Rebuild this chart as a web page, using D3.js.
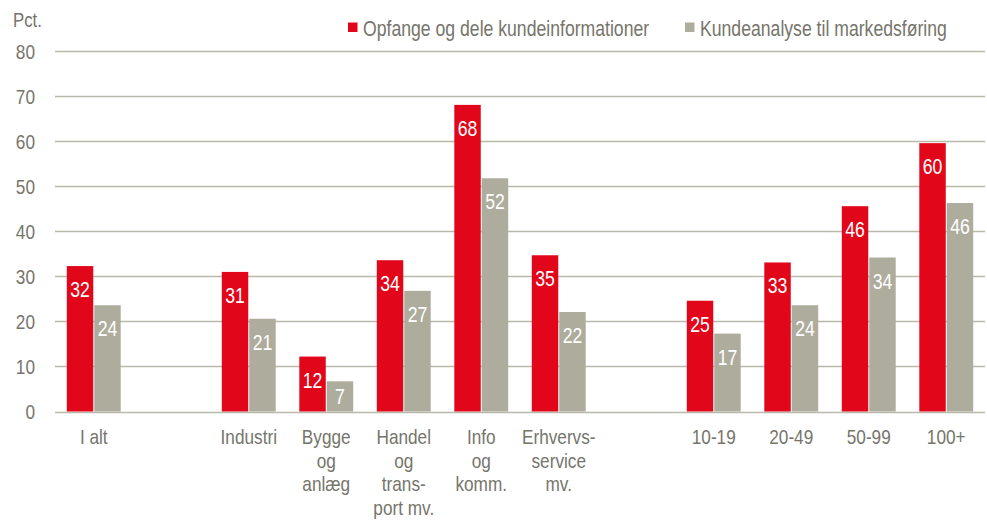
<!DOCTYPE html>
<html><head><meta charset="utf-8">
<script src="https://cdn.jsdelivr.net/npm/d3@7"></script>
<style>
body{margin:0;background:#fff;}
text{font-family:"Liberation Sans",Arial,sans-serif;}
</style></head>
<body><svg id="c" width="987" height="521"></svg>
<script>
const categories = ["I alt", "", "Industri", "Bygge og anlæg", "Handel og trans- port mv.", "Info og komm.", "Erhvervs- service mv.", " ", "10-19", "20-49", "50-99", "100+"];
const categoryLines = [["I alt"], [], ["Industri"], ["Bygge","og","anlæg"], ["Handel","og","trans-","port mv."], ["Info","og","komm."], ["Erhvervs-","service","mv."], [], ["10-19"], ["20-49"], ["50-99"], ["100+"]];
const seriesNames = ["Opfange og dele kundeinformationer", "Kundeanalyse til markedsføring"];
const opfange = [32.3, null, 31.0, 12.2, 33.6, 68.1, 34.7, null, 24.6, 33.1, 45.6, 59.6];
const kundeanalyse = [23.6, null, 20.6, 6.7, 26.8, 51.8, 22.1, null, 17.3, 23.6, 34.2, 46.3];
const yTicks = [0, 10, 20, 30, 40, 50, 60, 70, 80];
const colors = ["#E2061A", "#AEAC9D"];
const textColor = "#76756B";
const NARROW = 0.82;

const svg = d3.select("#c");
const x0 = d3.scaleBand().domain(d3.range(categories.length)).range([55, 985]).padding(0);
const x1 = d3.scaleBand().domain([0, 1]).range([0, x0.bandwidth()]).paddingInner(0.036).paddingOuter(0.43);
const y = d3.scaleLinear().domain([0, 80]).range([411.5, 51.3]);

function ntext(parent, x, yy, size, fill, anchor) {
  return parent.append("text")
    .attr("transform", `translate(${x},${yy}) scale(${NARROW},1)`)
    .attr("font-size", size).attr("fill", fill).attr("text-anchor", anchor || "start");
}

// gridlines
svg.append("g").selectAll("line").data(yTicks).join("line")
  .attr("x1", 55).attr("x2", 985)
  .attr("y1", d => Math.round(y(d)) + 0.5).attr("y2", d => Math.round(y(d)) + 0.5)
  .attr("stroke", "#B9B8AB").attr("stroke-width", 1.3);

// y axis labels
const yAxis = d3.axisLeft(y).tickValues(yTicks).tickSize(0).tickPadding(0);
const ga = svg.append("g").attr("transform", "translate(35,0)").call(yAxis);
ga.select(".domain").remove();
ga.selectAll("text").attr("x", 0).attr("font-size", 21).attr("fill", textColor)
  .attr("font-family", '"Liberation Sans",Arial,sans-serif')
  .attr("transform", `scale(${NARROW},1)`);

ntext(svg, 13, 26.7, 20.5, textColor).text("Pct.");

// bars
const series = [opfange, kundeanalyse];
series.forEach((vals, si) => {
  const g = svg.append("g");
  const data = vals.map((v, i) => ({v, i})).filter(d => d.v != null);
  g.selectAll("rect").data(data).join("rect")
    .attr("x", d => x0(d.i) + x1(si))
    .attr("width", x1.bandwidth())
    .attr("y", d => y(d.v))
    .attr("height", d => y(0) - y(d.v))
    .attr("fill", colors[si]);
  g.selectAll("text").data(data).join("text")
    .attr("transform", d => `translate(${x0(d.i) + x1(si) + x1.bandwidth() / 2},${Math.min(y(d.v) + 31, (y(d.v) + y(0)) / 2 + 7.8)}) scale(${NARROW},1)`)
    .attr("text-anchor", "middle").attr("font-size", 21.5).attr("fill", "#fff")
    .text(d => Math.round(d.v));
});

// category labels
const cg = svg.append("g");
categoryLines.forEach((lines, i) => {
  const t = ntext(cg, x0(i) + x0.bandwidth() / 2, 444, 21, textColor, "middle");
  lines.forEach((l, k) => t.append("tspan").attr("x", 0).attr("dy", k === 0 ? 0 : 23.7).text(l));
});

// legend
const legX = [348, 685];
seriesNames.forEach((n, i) => {
  svg.append("rect").attr("x", legX[i]).attr("y", 22.5).attr("width", 9.5).attr("height", 9.5).attr("fill", colors[i]);
  ntext(svg, legX[i] + 15, 36.3, 21.5, textColor).text(n);
});
</script></body></html>
